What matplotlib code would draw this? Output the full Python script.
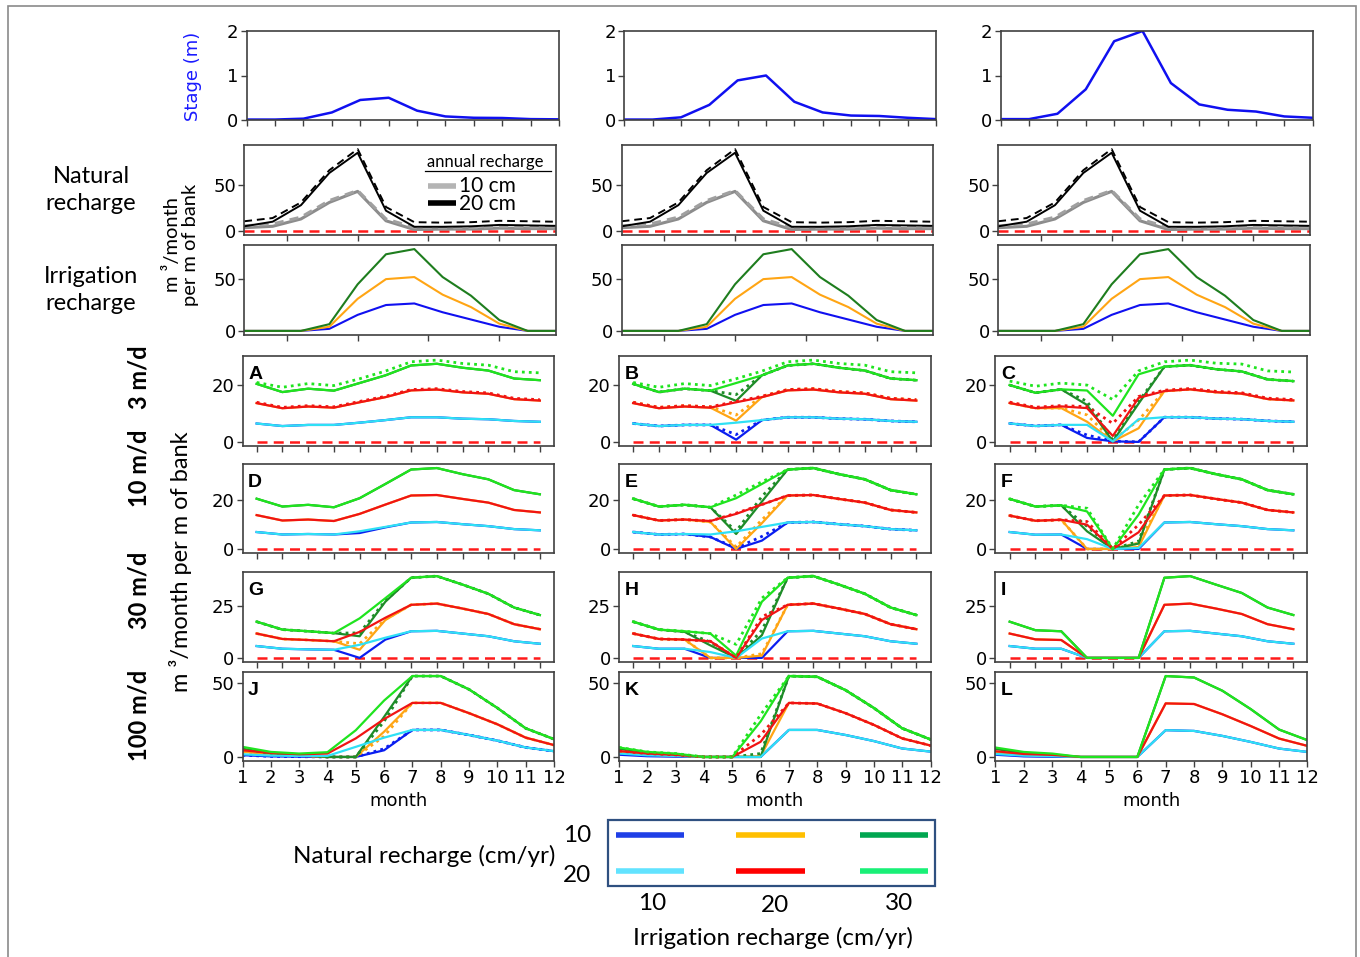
import matplotlib
matplotlib.use("Agg")
import matplotlib.pyplot as plt
from matplotlib.lines import Line2D
from matplotlib.patches import Rectangle

W, H = 1360, 957
months = list(range(1, 13))

# ---------------- top rows ----------------
stage_col1 = [0.01, 0.01, 0.03, 0.17, 0.45, 0.50, 0.21, 0.08, 0.05, 0.045, 0.02, 0.015]
stage_col2 = [0.01, 0.01, 0.06, 0.34, 0.89, 1.00, 0.41, 0.17, 0.10, 0.09, 0.05, 0.02]
stage_col3 = [0.02, 0.02, 0.14, 0.69, 1.77, 2.00, 0.83, 0.35, 0.23, 0.19, 0.08, 0.05]

nat10_solid = [3.5, 5.0, 13, 31, 43, 11, 1.5, 2.0, 2.0, 3.0, 2.5, 2.5]
nat10_dash = [5.5, 7.5, 15, 33, 44, 13, 3.7, 3.5, 3.7, 5.0, 4.5, 4.5]
nat20_solid = [5.0, 10, 28, 63, 85, 22, 4.5, 4.5, 5.0, 6.5, 6.0, 5.5]
nat20_dash = [10.5, 14, 31, 66, 89, 26, 9.5, 9.0, 9.5, 11, 10.5, 10]

irr10 = [0, 0, 0, 2.0, 15.5, 25, 26.5, 18, 11, 4.0, 0, 0]
irr20 = [0, 0, 0, 4.0, 31, 50, 52, 35, 23, 7.0, 0, 0]
irr30 = [0, 0, 0, 6.5, 45, 74, 79, 52, 34, 10.5, 0, 0]

# ---------------- row base curves (N20 series) ----------------
A_low = [6.5, 5.6, 6.0, 6.0, 6.8, 7.7, 8.7, 8.7, 8.2, 8.0, 7.4, 7.1]
A_mid = [13.7, 11.9, 12.5, 12.1, 14.0, 15.8, 18.2, 18.5, 17.5, 17.0, 15.1, 14.6]
A_high = [20.5, 17.6, 18.8, 18.1, 20.8, 23.5, 27.0, 27.6, 26.2, 25.2, 22.4, 21.8]
A_mid_dot = [14.0, 12.2, 12.8, 12.4, 14.3, 16.1, 18.5, 18.8, 17.8, 17.3, 15.4, 14.9]
A_high_dot = [21.0, 19.3, 20.6, 19.9, 22.3, 25.0, 28.3, 28.9, 27.7, 27.1, 24.8, 24.4]

D_low = [6.9, 5.9, 6.1, 5.9, 7.2, 9.0, 10.8, 11.0, 10.1, 9.3, 8.1, 7.6]
D_mid = [13.8, 11.6, 12.0, 11.4, 14.3, 18.1, 21.8, 22.0, 20.4, 18.9, 15.9, 14.9]
D_high = [20.5, 17.3, 18.0, 17.0, 20.7, 26.5, 32.4, 33.0, 30.5, 28.4, 24.0, 22.3]

G_low = [5.7, 4.4, 4.1, 3.9, 6.3, 9.7, 12.8, 13.0, 11.7, 10.4, 8.0, 6.8]
G_mid = [11.7, 9.1, 8.6, 8.0, 12.5, 19.3, 25.5, 26.1, 23.7, 21.1, 16.2, 13.8]
G_high = [17.4, 13.6, 12.8, 11.9, 19.0, 28.7, 38.5, 39.3, 35.2, 30.8, 24.2, 20.6]

J_low = [1.8, 0.9, 0.7, 0.7, 6.8, 13.0, 18.2, 18.2, 14.8, 11.0, 6.4, 3.9]
J_mid = [4.5, 2.7, 1.8, 2.3, 12.5, 25.5, 36.4, 36.4, 29.5, 22.0, 13.0, 8.0]
J_high = [6.8, 3.4, 2.3, 3.2, 18.0, 38.0, 54.5, 54.5, 45.5, 33.0, 19.3, 12.0]

# ---------------- panel-specific series (":" = dotted) ----------------
panel_A = {"red:": A_mid_dot, "lgreen:": A_high_dot}
panel_B = {
    "blue": [6.5, 5.6, 6.0, 6.0, 0.8, 7.7, 8.7, 8.7, 8.2, 8.0, 7.4, 7.1],
    "blue:": [6.5, 5.6, 6.0, 6.0, 2.6, 7.7, 8.7, 8.7, 8.2, 8.0, 7.4, 7.1],
    "orange": [13.7, 11.9, 12.5, 12.1, 7.5, 15.8, 18.2, 18.5, 17.5, 17.0, 15.1, 14.6],
    "orange:": [14.0, 12.2, 12.8, 12.4, 9.5, 16.1, 18.5, 18.8, 17.8, 17.3, 15.4, 14.9],
    "dkgreen": [20.5, 17.6, 18.8, 18.1, 14.5, 23.5, 27.0, 27.6, 26.2, 25.2, 22.4, 21.8],
    "dkgreen:": [20.5, 17.6, 18.8, 18.1, 16.7, 23.5, 27.0, 27.6, 26.2, 25.2, 22.4, 21.8],
    "red:": A_mid_dot, "lgreen:": A_high_dot,
}
panel_C = {
    "blue": [6.5, 5.6, 6.0, 1.4, 0.2, 0.0, 8.7, 8.7, 8.2, 8.0, 7.4, 7.1],
    "blue:": [6.5, 5.6, 6.0, 2.4, 0.3, 0.0, 8.7, 8.7, 8.2, 8.0, 7.4, 7.1],
    "orange": [13.7, 11.9, 11.9, 7.1, 0.2, 4.8, 17.9, 18.5, 17.5, 17.0, 15.1, 14.6],
    "orange:": [13.7, 11.9, 11.9, 9.5, 0.5, 7.7, 17.9, 18.5, 17.5, 17.0, 15.1, 14.6],
    "dkgreen": [20.0, 17.3, 18.5, 13.0, 0.2, 13.5, 26.5, 27.0, 25.6, 24.8, 22.0, 21.4],
    "dkgreen:": [20.0, 17.3, 18.5, 14.3, 0.6, 14.3, 26.5, 27.0, 25.6, 24.8, 22.0, 21.4],
    "cyan": [6.5, 5.6, 6.0, 6.0, 0.2, 8.0, 8.7, 8.7, 8.2, 8.0, 7.4, 7.1],
    "red": [13.7, 11.9, 12.5, 11.9, 2.1, 15.5, 17.9, 18.5, 17.5, 17.0, 15.1, 14.6],
    "red:": [14.0, 12.2, 12.8, 12.4, 6.5, 16.0, 18.2, 18.8, 17.8, 17.3, 15.4, 14.9],
    "lgreen": [20.0, 17.3, 18.5, 18.1, 9.2, 23.8, 26.5, 27.0, 25.6, 24.8, 22.0, 21.4],
    "lgreen:": [21.4, 19.6, 20.7, 20.0, 14.9, 25.0, 28.2, 28.8, 27.7, 27.4, 25.0, 24.6],
}
panel_D = {"blue": [6.9, 5.9, 6.1, 5.9, 6.5, 8.8, 10.8, 11.0, 10.1, 9.3, 8.1, 7.6]}
panel_E = {
    "blue": [6.9, 5.9, 6.1, 4.9, 0.0, 3.4, 10.8, 11.0, 10.1, 9.3, 8.1, 7.6],
    "blue:": [6.9, 5.9, 6.1, 4.9, 0.4, 5.1, 10.8, 11.0, 10.1, 9.3, 8.1, 7.6],
    "orange": [13.8, 11.6, 12.0, 11.0, 0.0, 10.5, 21.8, 22.0, 20.4, 18.9, 15.9, 14.9],
    "orange:": [13.8, 11.6, 12.0, 11.0, 0.8, 11.9, 21.8, 22.0, 20.4, 18.9, 15.9, 14.9],
    "dkgreen": [20.5, 17.3, 18.0, 17.0, 6.1, 19.3, 32.4, 33.0, 30.5, 28.4, 24.0, 22.3],
    "dkgreen:": [20.5, 17.3, 18.0, 17.0, 7.2, 21.4, 32.4, 33.0, 30.5, 28.4, 24.0, 22.3],
    "red:": [13.8, 11.6, 12.0, 11.4, 14.6, 18.1, 21.8, 22.0, 20.4, 18.9, 15.9, 14.9],
    "lgreen:": [20.5, 17.3, 18.0, 17.0, 22.0, 27.4, 32.4, 33.0, 30.5, 28.4, 24.0, 22.3],
}
panel_F = {
    "blue": [6.9, 5.8, 5.9, 0.0, 0.0, 0.0, 10.8, 11.0, 10.1, 9.3, 8.1, 7.6],
    "orange": [13.6, 11.5, 11.9, 0.0, 0.0, 0.8, 21.8, 22.0, 20.4, 18.9, 15.9, 14.9],
    "orange:": [13.6, 11.5, 11.9, 0.0, 0.0, 2.4, 21.8, 22.0, 20.4, 18.9, 15.9, 14.9],
    "dkgreen": [20.4, 17.3, 17.8, 7.2, 0.0, 2.2, 32.4, 33.0, 30.5, 28.4, 24.0, 22.3],
    "dkgreen:": [20.4, 17.3, 17.8, 9.2, 0.0, 3.1, 32.4, 33.0, 30.5, 28.4, 24.0, 22.3],
    "cyan": [6.9, 5.8, 5.9, 4.0, 0.0, 0.4, 10.8, 11.0, 10.1, 9.3, 8.1, 7.6],
    "red": [13.6, 11.5, 11.9, 9.9, 0.0, 6.8, 21.8, 22.0, 20.4, 18.9, 15.9, 14.9],
    "red:": [13.6, 11.5, 11.9, 11.2, 0.0, 9.9, 21.8, 22.0, 20.4, 18.9, 15.9, 14.9],
    "lgreen": [20.4, 17.3, 17.8, 15.3, 0.0, 14.0, 32.4, 33.0, 30.5, 28.4, 24.0, 22.3],
    "lgreen:": [20.4, 17.3, 17.8, 16.6, 0.0, 18.0, 32.4, 33.0, 30.5, 28.4, 24.0, 22.3],
}
panel_G = {
    "blue": [5.7, 4.4, 4.1, 3.9, 0.0, 8.8, 12.8, 13.0, 11.7, 10.4, 8.0, 6.8],
    "orange": [11.7, 9.1, 8.6, 8.0, 3.9, 18.2, 25.5, 26.1, 23.7, 21.1, 16.2, 13.8],
    "orange:": [11.7, 9.1, 8.6, 8.0, 6.8, 18.6, 25.5, 26.1, 23.7, 21.1, 16.2, 13.8],
    "dkgreen": [17.4, 13.6, 12.8, 11.9, 10.4, 27.0, 38.5, 39.3, 35.2, 30.8, 24.2, 20.6],
    "dkgreen:": [17.4, 13.6, 12.8, 11.9, 12.0, 27.5, 38.5, 39.3, 35.2, 30.8, 24.2, 20.6],
}
panel_H = {
    "blue": [5.7, 4.4, 4.4, 0.0, 0.0, 0.0, 12.8, 13.0, 11.7, 10.4, 8.0, 6.8],
    "orange": [11.7, 9.1, 8.8, 0.0, 0.0, 1.1, 25.5, 26.1, 23.7, 21.1, 16.2, 13.8],
    "orange:": [11.7, 9.1, 8.8, 0.0, 0.0, 2.0, 25.5, 26.1, 23.7, 21.1, 16.2, 13.8],
    "dkgreen": [17.4, 13.6, 12.5, 6.0, 0.0, 10.9, 38.5, 39.3, 35.2, 30.8, 24.2, 20.6],
    "dkgreen:": [17.4, 13.6, 12.5, 7.6, 0.0, 13.3, 38.5, 39.3, 35.2, 30.8, 24.2, 20.6],
    "cyan": [5.7, 4.4, 4.4, 2.8, 0.0, 9.3, 12.8, 13.0, 11.7, 10.4, 8.0, 6.8],
    "red": [11.7, 9.1, 8.8, 8.0, 0.0, 18.2, 25.5, 26.1, 23.7, 21.1, 16.2, 13.8],
    "red:": [11.7, 9.1, 8.8, 8.0, 0.0, 19.8, 25.5, 26.1, 23.7, 21.1, 16.2, 13.8],
    "lgreen": [17.4, 13.6, 12.8, 11.7, 1.1, 27.0, 38.5, 39.3, 35.2, 30.8, 24.2, 20.6],
    "lgreen:": [17.4, 13.6, 12.8, 11.7, 6.5, 28.7, 38.5, 39.3, 35.2, 30.8, 24.2, 20.6],
}
panel_I = {
    "blue": [5.7, 4.4, 4.4, 0, 0, 0, 12.8, 13.0, 11.7, 10.4, 8.0, 6.8],
    "orange": [11.7, 8.9, 8.6, 0, 0, 0, 25.5, 26.1, 23.7, 21.1, 16.2, 13.8],
    "dkgreen": [17.4, 13.3, 12.8, 0, 0, 0, 38.5, 39.3, 35.2, 31.2, 24.2, 20.6],
    "cyan": [5.7, 4.4, 4.4, 0, 0, 0, 12.8, 13.0, 11.7, 10.4, 8.0, 6.8],
    "red": [11.7, 8.9, 8.6, 0, 0, 0, 25.5, 26.1, 23.7, 21.1, 16.2, 13.8],
    "lgreen": [17.4, 13.3, 12.8, 0, 0, 0, 38.5, 39.3, 35.2, 31.2, 24.2, 20.6],
}
panel_J = {
    "blue": [1.2, 0.4, 0.2, 0.0, 0.0, 4.5, 18.2, 18.2, 14.8, 11.0, 6.4, 3.9],
    "blue:": [1.2, 0.4, 0.2, 0.0, 0.0, 5.5, 18.2, 18.2, 14.8, 11.0, 6.4, 3.9],
    "orange": [3.5, 1.8, 1.0, 0.0, 0.0, 17.0, 36.4, 36.4, 29.5, 22.0, 13.0, 8.0],
    "orange:": [3.5, 1.8, 1.0, 0.0, 0.0, 14.0, 36.4, 36.4, 29.5, 22.0, 13.0, 8.0],
    "dkgreen": [5.5, 2.5, 1.5, 0.0, 0.0, 27.0, 54.5, 54.5, 45.5, 33.0, 19.3, 12.0],
    "dkgreen:": [5.5, 2.5, 1.5, 0.0, 0.0, 24.0, 54.5, 54.5, 45.5, 33.0, 19.3, 12.0],
}
panel_K = {
    "blue": [1.5, 0.5, 0.2, 0, 0, 0, 18.2, 18.2, 14.8, 10.7, 5.7, 3.6],
    "orange": [3.2, 1.6, 0.9, 0, 0, 0.5, 36.4, 36.0, 29.5, 21.6, 12.5, 7.7],
    "dkgreen": [5.5, 2.5, 1.5, 0, 0, 0.0, 54.5, 54.0, 45.0, 33.0, 19.3, 11.8],
    "dkgreen:": [5.5, 2.5, 1.5, 0, 0, 2.3, 54.5, 54.0, 45.0, 33.0, 19.3, 11.8],
    "cyan": [2.3, 1.1, 0.7, 0, 0, 0, 18.2, 18.2, 14.8, 10.7, 5.7, 3.6],
    "red": [4.0, 2.3, 1.4, 0, 0, 10.2, 36.4, 36.0, 29.5, 21.6, 12.5, 7.7],
    "red:": [4.0, 2.3, 1.4, 0, 0, 14.8, 36.4, 36.0, 29.5, 21.6, 12.5, 7.7],
    "lgreen": [6.4, 3.4, 2.3, 0, 0, 23.9, 54.5, 54.0, 45.0, 33.0, 19.3, 11.8],
    "lgreen:": [6.4, 3.4, 2.3, 0, 0, 28.4, 54.5, 54.0, 45.0, 33.0, 19.3, 11.8],
}
panel_L = {
    "blue": [1.5, 0.4, 0.1, 0, 0, 0, 18.2, 17.7, 14.3, 10.2, 5.7, 3.4],
    "orange": [3.1, 1.6, 1.0, 0, 0, 0, 36.4, 36.0, 29.0, 21.0, 12.5, 7.5],
    "dkgreen": [5.4, 2.7, 1.6, 0, 0, 0, 55.0, 54.0, 45.0, 32.5, 18.6, 11.4],
    "cyan": [2.0, 0.9, 0.5, 0, 0, 0, 18.2, 17.7, 14.3, 10.2, 5.7, 3.4],
    "red": [3.9, 2.0, 1.4, 0, 0, 0, 36.4, 36.0, 29.0, 21.0, 12.5, 7.5],
    "lgreen": [6.4, 3.4, 2.3, 0, 0, 0, 55.0, 54.0, 45.0, 32.5, 18.6, 11.4],
}

letters = [["A", "B", "C"], ["D", "E", "F"], ["G", "H", "I"], ["J", "K", "L"]]
row_bases = [(A_low, A_mid, A_high), (D_low, D_mid, D_high),
             (G_low, G_mid, G_high), (J_low, J_mid, J_high)]
panels = [[panel_A, panel_B, panel_C], [panel_D, panel_E, panel_F],
          [panel_G, panel_H, panel_I], [panel_J, panel_K, panel_L]]
row_labels = ["3 m/d", "10 m/d", "30 m/d", "100 m/d"]

COLORS = {"blue": "#0a1ef0", "orange": "#ffa514", "dkgreen": "#1e8c28",
          "cyan": "#2fe0f5", "red": "#f01414", "lgreen": "#1fe41f"}
GROUP = {"blue": 0, "cyan": 0, "orange": 1, "red": 1, "dkgreen": 2, "lgreen": 2}
LEG_COLORS = [["#1f3fe6", "#ffbf00", "#00a650"], ["#62e3ff", "#ff0000", "#19f077"]]

CAL = ["Lato", "DejaVu Sans"]
SPINE = "#404040"

fig = plt.figure(figsize=(W / 100, H / 100), dpi=100)


def add_ax(x0, x1, y0, y1):
    return fig.add_axes([x0 / W, 1 - y1 / H, (x1 - x0) / W, (y1 - y0) / H])


def style(ax):
    for s in ax.spines.values():
        s.set_color(SPINE)
        s.set_linewidth(1.2)
    ax.tick_params(direction="out", length=4, width=1.0, color=SPINE,
                   labelsize=13, pad=2)


fig.add_artist(Rectangle((8 / W, -0.01), (1356 - 8) / W, 1 - 6 / H + 0.01,
                         transform=fig.transFigure, fill=False,
                         edgecolor="#8a8a8a", lw=1.2))

stage_cols = [(246.7, 559), (624.3, 936), (1000.7, 1312.7)]
mid_cols = [(244.3, 556), (621.7, 933.3), (998.3, 1310)]
low_cols = [(242.5, 554), (619, 930.5), (995.5, 1307.5)]
low_rows = [(356, 446), (464, 553), (572, 662), (672, 761)]

stages = [stage_col1, stage_col2, stage_col3]
for c in range(3):
    # stage
    ax = add_ax(*stage_cols[c], 31, 120)
    ax.plot(months, stages[c], color="#1010f0", lw=1.8)
    ax.set_xlim(1, 12)
    ax.set_ylim(0, 2)
    ax.set_xticks(months)
    ax.set_xticklabels([])
    ax.set_yticks([0, 1, 2])
    style(ax)

    # natural recharge
    ax = add_ax(*mid_cols[c], 145, 235)
    ax.plot(months, [0] * 12, color="#ff1a1a", lw=1.8, ls=(0, (4, 2.5)))
    ax.plot(months, nat10_solid, color="#8c8c8c", lw=2.2)
    ax.plot(months, nat10_dash, color="#a0a0a0", lw=2.2, ls=(0, (3, 2)))
    ax.plot(months, nat20_solid, color="black", lw=1.4)
    ax.plot(months, nat20_dash, color="black", lw=1.4, ls=(0, (4, 2.5)))
    ax.set_xlim(1, 12)
    ax.set_xticks([2.5, 5, 7.5, 10])
    ax.set_xticklabels([])
    ax.set_yticks([0, 50])
    style(ax)
    if c == 0:
        t = ax.transAxes
        ax.text(0.585, 0.81, "annual recharge", transform=t, fontsize=12,
                family=CAL, va="center", ha="left")
        ax.plot([0.58, 0.985], [0.71, 0.71], transform=t, color="black", lw=0.9)
        ax.plot([0.589, 0.679], [0.54, 0.54], transform=t, color="#b4b4b4", lw=4,
                solid_capstyle="butt")
        ax.plot([0.589, 0.679], [0.355, 0.355], transform=t, color="black", lw=4,
                solid_capstyle="butt")
        ax.text(0.69, 0.54, "10 cm", transform=t, fontsize=15, family=CAL,
                va="center", ha="left")
        ax.text(0.69, 0.34, "20 cm", transform=t, fontsize=15, family=CAL,
                va="center", ha="left")

    # irrigation recharge
    ax = add_ax(*mid_cols[c], 245, 335)
    ax.plot(months, irr10, color="#1010f0", lw=1.5)
    ax.plot(months, irr20, color="#ffa514", lw=1.5)
    ax.plot(months, irr30, color="#1e7d1e", lw=1.5)
    ax.set_xlim(1, 12)
    ax.set_xticks([2.5, 5, 7.5, 10])
    ax.set_xticklabels([])
    ax.set_yticks([0, 50])
    style(ax)

yticks_rows = [[0, 20], [0, 20], [0, 25], [0, 50]]
for r in range(4):
    for c in range(3):
        x0, x1 = low_cols[c]
        y0, y1 = low_rows[r]
        ax = add_ax(x0, x1, y0, y1)
        bases = row_bases[r]
        pdata = panels[r][c]

        def series(name):
            return pdata.get(name, bases[GROUP[name]])

        if r < 3:
            ax.plot(months, [0] * 12, color="#ff1a1a", lw=1.8, ls=(0, (4, 2.5)))
        lw = 1.6
        for name in ["blue", "orange", "dkgreen"]:
            ax.plot(months, series(name), color=COLORS[name], lw=lw)
            if name + ":" in pdata:
                ax.plot(months, pdata[name + ":"], color=COLORS[name], lw=2.0,
                        ls=(0, (1, 1.5)))
        for name in ["cyan", "red", "lgreen"]:
            ax.plot(months, series(name), color=COLORS[name], lw=lw)
        for name in ["cyan", "red", "lgreen"]:
            if name + ":" in pdata:
                ax.plot(months, pdata[name + ":"], color=COLORS[name], lw=2.0,
                        ls=(0, (1, 1.5)))
        ax.set_xticks(months)
        ax.set_yticks(yticks_rows[r])
        if r == 3:
            ax.set_xlim(1, 12)
            ax.set_xlabel("month", fontsize=13, labelpad=3)
        else:
            ax.set_xticklabels([])
        style(ax)
        ax.text(0.018, 0.79, letters[r][c], transform=ax.transAxes,
                fontsize=14, fontweight="bold", family="Liberation Sans",
                va="center", ha="left")

# left-side labels
fig.text(193 / W, 1 - 76 / H, "Stage (m)", rotation=90, color="#1a1aff",
         fontsize=13, ha="center", va="center")
fig.text(181 / W, 1 - 245 / H, "m \u00b3/month\nper m of bank", rotation=90,
         fontsize=14.5, family=CAL, ha="center", va="center", multialignment="center",
         linespacing=1.1)
fig.text(91 / W, 1 - 190 / H, "Natural\nrecharge", fontsize=17, family=CAL,
         ha="center", va="center", linespacing=1.35)
fig.text(91 / W, 1 - 290 / H, "Irrigation\nrecharge", fontsize=17, family=CAL,
         ha="center", va="center", linespacing=1.35)
for lab, yc in zip(row_labels, [377, 468, 590, 715]):
    fig.text(139 / W, 1 - yc / H, lab, rotation=90, fontsize=17, family=CAL,
             fontweight="bold", ha="center", va="center")
fig.text(181 / W, 1 - 562 / H, "m \u00b3/month per m of bank", rotation=90,
         fontsize=17, family=CAL, ha="center", va="center")

# bottom legend grid
fig.add_artist(Rectangle((608 / W, 1 - 886 / H), (935 - 608) / W, (886 - 820) / H,
                         transform=fig.transFigure, fill=False,
                         edgecolor="#2f5080", lw=1.6))
leg_x = [(616, 684), (736, 805), (860, 928)]
leg_y = [835, 871]
for i in range(2):
    for j in range(3):
        fig.add_artist(Line2D([leg_x[j][0] / W, leg_x[j][1] / W],
                              [1 - leg_y[i] / H, 1 - leg_y[i] / H],
                              transform=fig.transFigure, color=LEG_COLORS[i][j],
                              lw=4, solid_capstyle="butt"))
fig.text(577 / W, 1 - 835 / H, "10", fontsize=17.5, family=CAL, ha="center", va="center")
fig.text(577 / W, 1 - 876 / H, "20", fontsize=17.5, family=CAL, ha="center", va="center")
fig.text(555 / W, 1 - 856 / H, "Natural recharge (cm/yr)", fontsize=17.5, family=CAL,
         ha="right", va="center")
for lab, xc, yc in zip(["10", "20", "30"], [652, 775, 899], [903, 906, 903]):
    fig.text(xc / W, 1 - yc / H, lab, fontsize=17.5, family=CAL, ha="center", va="center")
fig.text(773 / W, 1 - 938 / H, "Irrigation recharge (cm/yr)", fontsize=17.5,
         family=CAL, ha="center", va="center")

fig.savefig("out.png", dpi=100)
